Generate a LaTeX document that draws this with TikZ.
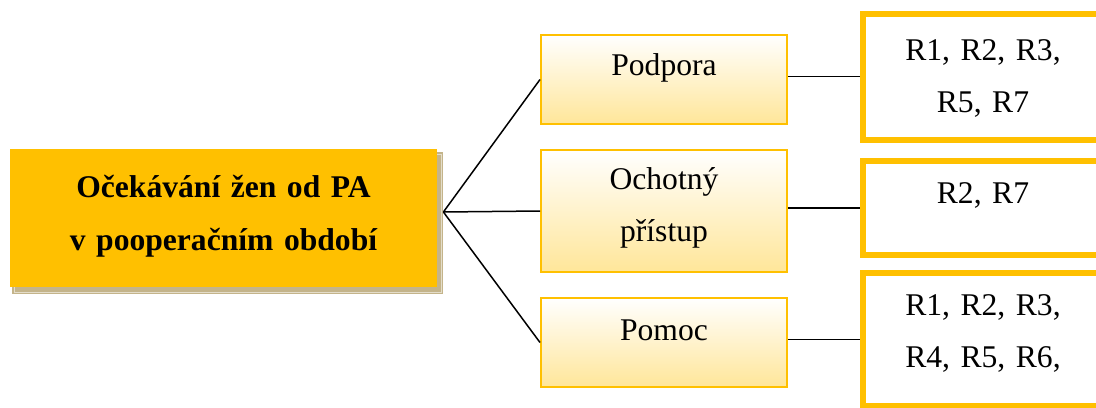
\documentclass[tikz,border=0pt]{standalone}
\usepackage{fontspec}
\setmainfont{Liberation Serif}
\usetikzlibrary{shadows}
\definecolor{gold}{HTML}{FFC000}
\definecolor{cream}{HTML}{FFE699}
\definecolor{khaki}{HTML}{C4B48A}
\frenchspacing
\begin{document}
\begin{tikzpicture}[x=1pt, y=1pt, grow'=right,
        level 1/.style={level distance=220.25pt, sibling distance=65.75pt,
            edge from parent path={([xshift=3pt,yshift=3pt]\tikzparentnode.east) -- (\tikzchildnode.west)}},
        level 2/.style={level distance=159.5pt,
            edge from parent path={(\tikzparentnode.east |- \tikzchildnode.west) -- (\tikzchildnode.west)}},
        edge from parent/.style={draw=black, line width=0.75pt},
        every node/.style={inner sep=0pt, align=center, font=\fontsize{15.8}{26}\selectfont},
        topic/.style={fill=gold, text width=213.5pt, font=\fontsize{15.8}{26.5}\selectfont\bfseries,
            drop shadow={shadow xshift=2pt, shadow yshift=-2.5pt, opacity=1, fill=khaki,
                draw=khaki, double=khaki!45!white, double distance=0.5pt, line width=0.75pt}},
        optbox/.style={draw=gold, line width=1pt, top color=white, bottom color=cream,
            text width=123pt, yshift=3.5pt},
        refbox/.style={draw=gold, line width=3pt, fill=white, text width=120pt, yshift=1.5pt}]
    \clip[use as bounding box] (0,0) rectangle (548,-203.5);
    \node[topic, text height=24pt, text depth=45pt] (root) at (111.75,-109)
        {Očekávání žen od PA\\v pooperačním období}
    child { node[optbox, text height=20pt, text depth=24.5pt] (podpora) {Podpora}
        child { node[refbox, text height=23.5pt, text depth=39.5pt] (rpodpora) {R1, R2, R3,\\R5, R7} }
    }
    child { node[optbox, text height=19.5pt, text depth=41.5pt] (pristup) {Ochotný\\přístup}
        child { node[refbox, text height=21pt, text depth=26pt] (rpristup) {R2, R7} }
    }
    child { node[optbox, text height=21pt, text depth=23.5pt] (pomoc) {Pomoc}
        child { node[refbox, text height=21pt, text depth=45.5pt] (rpomoc) {R1, R2, R3,\\R4, R5, R6,} }
    };
\end{tikzpicture}
\end{document}
